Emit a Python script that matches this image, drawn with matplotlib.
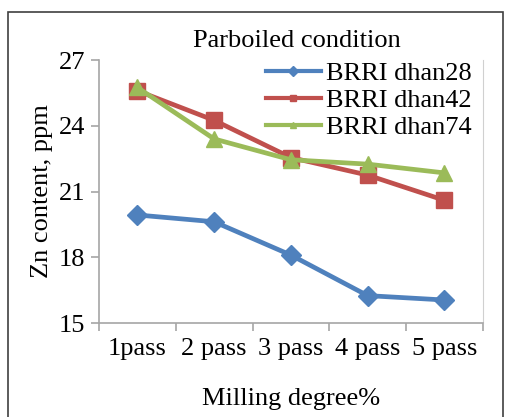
import matplotlib.pyplot as plt
from matplotlib.patches import Rectangle

plt.rcParams['font.family'] = ['Liberation Serif', 'DejaVu Serif']

categories = ["1pass", "2 pass", "3 pass", "4 pass", "5 pass"]
dhan28 = [19.93, 19.62, 18.1, 16.25, 16.05]
dhan42 = [25.6, 24.25, 22.55, 21.75, 20.6]
dhan74 = [25.75, 23.4, 22.45, 22.25, 21.85]
yticks = [15, 18, 21, 24, 27]

fs = 19
fig = plt.figure(figsize=(5.05, 4.17), dpi=100)
ax = fig.add_axes([0.196, 0.2254, 0.76, 0.6306])

x = range(len(categories))
ax.plot(x, dhan28, color="#4F81BD", lw=3.4, marker="D", ms=10, label="BRRI dhan28")
ax.plot(x, dhan42, color="#C0504D", lw=3.4, marker="s", ms=11, label="BRRI dhan42")
ax.plot(x, dhan74, color="#9BBB59", lw=3.4, marker="^", ms=12, label="BRRI dhan74")

ax.set_xlim(-0.5, 4.5)
ax.set_ylim(15, 27)
ax.set_yticks(yticks)
ax.set_xticks(list(x))
ax.set_xticklabels(categories)
ax.set_xticks([i - 0.5 for i in range(6)], minor=True)
ax.tick_params(axis="x", which="major", length=0, labelsize=fs, pad=11)
ax.tick_params(axis="x", which="minor", length=6, color="#A6A6A6", width=1.2)
ax.tick_params(axis="y", length=6, color="#A6A6A6", width=1.2, labelsize=fs, pad=4)

for s in ["left", "bottom"]:
    ax.spines[s].set_color("#A6A6A6")
    ax.spines[s].set_linewidth(1.2)
ax.spines["right"].set_color("#D0D0D0")
ax.spines["top"].set_visible(False)

ax.set_ylabel("Zn content, ppm", fontsize=fs, labelpad=4)
ax.set_xlabel("Milling degree%", fontsize=fs, labelpad=20)
fig.text(0.588, 0.902, "Parboiled condition", ha="center", va="center", fontsize=fs)

leg = ax.legend(loc="upper right", bbox_to_anchor=(1.0, 1.035), fontsize=fs, frameon=False,
                handlelength=2.1, handletextpad=0.2, labelspacing=0.14, borderaxespad=0.0)
for h in leg.legend_handles:
    h.set_markersize(5)
    h.set_linewidth(3)

fig.patches.append(Rectangle((8 / 505, -0.05), 495 / 505, 1.05 - 12 / 417,
                             transform=fig.transFigure, fill=False,
                             edgecolor="#404040", lw=1.2))

fig.savefig("out.png", dpi=100)
